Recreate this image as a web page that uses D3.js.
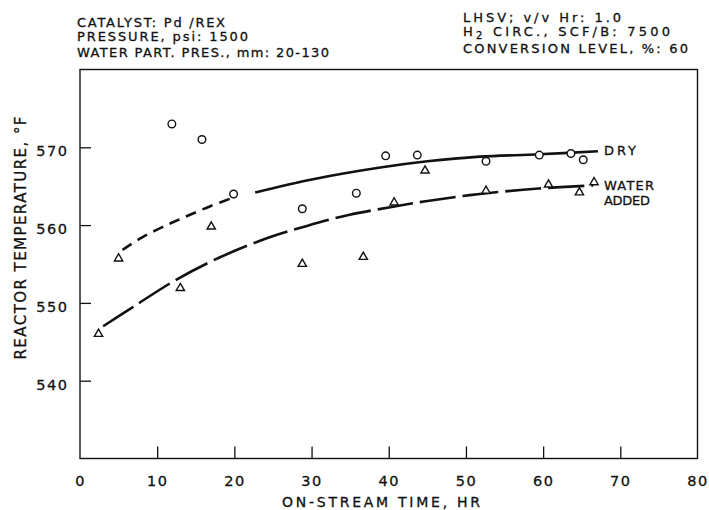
<!DOCTYPE html>
<html>
<head>
<meta charset="utf-8">
<script src="https://cdn.jsdelivr.net/npm/d3@7"></script>
<style>
  body { margin: 0; background: #fff; }
  text { font-family: "DejaVu Sans", sans-serif; fill: #111; stroke: #111; stroke-width: 0.3px; }
</style>
</head>
<body>
<div id="container"></div>
<script>
/* DATA */
// measured points, dry run (circles)
const dryTime = [11.9, 15.8, 19.9, 28.8, 35.8, 39.6, 43.7, 52.6, 59.5, 63.6, 65.2];
const dryTemp = [573.0, 571.0, 564.0, 562.1, 564.1, 568.9, 569.0, 568.2, 569.0, 569.2, 568.4];
// measured points, water added (triangles)
const waterTime = [2.4, 5.0, 13.0, 17.0, 28.8, 36.7, 40.7, 44.7, 52.6, 60.7, 64.7, 66.6];
const waterTemp = [546.0, 555.7, 551.9, 559.8, 555.0, 555.9, 562.9, 567.0, 564.4, 565.2, 564.2, 565.5];
// hand-drawn trend curves
const dryFitDashTime = [5.5, 8.0, 10.8, 13.5, 16.8, 20.3];
const dryFitDashTemp = [556.8, 558.4, 559.8, 561.0, 562.4, 563.7];
const dryFitSolidTime = [22.7, 30.2, 38.9, 45.0, 51.8, 59.5, 67.1];
const dryFitSolidTemp = [564.2, 565.9, 567.4, 568.2, 568.8, 569.1, 569.5];
const waterFitTime = [3.0, 6.9, 12.5, 18.0, 24.2, 29.4, 34.8, 40.2, 45.0, 51.8, 59.4, 66.5];
const waterFitTemp = [547.0, 549.5, 553.0, 555.8, 558.3, 559.9, 561.3, 562.3, 563.1, 564.0, 564.7, 565.1];
// axes
const xTicks = [0, 10, 20, 30, 40, 50, 60, 70, 80];
const yTicks = [540, 550, 560, 570];
const headerLeft = ["CATALYST: Pd /REX", "PRESSURE, psi: 1500", "WATER PART. PRES., mm: 20-130"];
const headerRight = ["LHSV; v/v Hr: 1.0", "H|2| CIRC., SCF/B: 7500", "CONVERSION LEVEL, %: 60"];

/* CONSTANTS */
const width = 709, height = 510;
const margin = { top: 69.5, bottom: 51.5, left: 80, right: 11.5 };

const zip = (a, b) => a.map((v, i) => [v, b[i]]);

/* SCALES */
const xScale = d3.scaleLinear().domain([0, 80]).range([margin.left, width - margin.right]);
const yScale = d3.scaleLinear().domain([530, 580]).range([height - margin.bottom, margin.top]);

const svg = d3.select("#container").append("svg")
  .attr("width", width).attr("height", height);

// frame
svg.append("rect")
  .attr("x", xScale(0)).attr("y", yScale(580))
  .attr("width", xScale(80) - xScale(0)).attr("height", yScale(530) - yScale(580))
  .attr("fill", "none").attr("stroke", "#111").attr("stroke-width", 1.4);

// axes
const xAxis = d3.axisBottom(xScale).tickValues(xTicks).tickSize(-12).tickPadding(17);
const gx = svg.append("g").attr("transform", `translate(0, ${yScale(530)})`).call(xAxis);
const yAxis = d3.axisLeft(yScale).tickValues(yTicks).tickSize(-11).tickPadding(11.5);
const gy = svg.append("g").attr("transform", `translate(${xScale(0)}, 0)`).call(yAxis);

[gx, gy].forEach(g => {
  g.select(".domain").remove();
  g.selectAll(".tick line").attr("stroke", "#111").attr("stroke-width", 1.3);
  g.selectAll(".tick text")
    .style("font-family", "DejaVu Sans").style("font-size", "14.5px")
    .style("letter-spacing", "1.5px").attr("fill", "#111");
});
gx.selectAll(".tick line").filter(d => d === 0 || d === 80).remove();
gy.selectAll(".tick text").attr("dy", "0.58em");

// axis titles
svg.append("text")
  .attr("x", 381).attr("y", 506.5).attr("text-anchor", "middle")
  .attr("textLength", 198).attr("lengthAdjust", "spacing")
  .style("font-size", "14px").text("ON-STREAM TIME, HR");

svg.append("text")
  .attr("transform", "translate(26, 238) rotate(-90)").attr("text-anchor", "middle")
  .attr("textLength", 243).attr("lengthAdjust", "spacing")
  .style("font-size", "15px").text("REACTOR TEMPERATURE, °F");

// header notes
const leftY = [26.5, 40.5, 56.5], leftW = [148, 171, 252];
headerLeft.forEach((t, i) => {
  svg.append("text").attr("x", 77).attr("y", leftY[i])
    .attr("textLength", leftW[i]).attr("lengthAdjust", "spacing")
    .style("font-size", "13px").text(t);
});
const rightY = [22, 36, 52.5], rightW = [158, 207, 225];
headerRight.forEach((t, i) => {
  const txt = svg.append("text").attr("x", 463).attr("y", rightY[i])
    .attr("textLength", rightW[i]).attr("lengthAdjust", "spacing")
    .style("font-size", "13px");
  const parts = t.split("|");
  if (parts.length === 3) {
    txt.append("tspan").text(parts[0]);
    txt.append("tspan").attr("dy", 3).style("font-size", "10px").text(parts[1]);
    txt.append("tspan").attr("dy", -3).text(parts[2]);
  } else {
    txt.text(t);
  }
});

// trend curves
const line = d3.line()
  .x(d => xScale(d[0])).y(d => yScale(d[1]))
  .curve(d3.curveCatmullRom.alpha(0.5));

svg.append("path").datum(zip(dryFitDashTime, dryFitDashTemp))
  .attr("d", line).attr("fill", "none").attr("stroke", "#111")
  .attr("stroke-width", 2.6).attr("stroke-dasharray", "11,7");
svg.append("path").datum(zip(dryFitSolidTime, dryFitSolidTemp))
  .attr("d", line).attr("fill", "none").attr("stroke", "#111")
  .attr("stroke-width", 2.6);
svg.append("path").datum(zip(waterFitTime, waterFitTemp))
  .attr("d", line).attr("fill", "none").attr("stroke", "#111")
  .attr("stroke-width", 2.6).attr("stroke-dasharray", "36,7");

// markers
svg.selectAll("circle.dry")
  .data(zip(dryTime, dryTemp))
  .join("circle")
  .attr("class", "dry")
  .attr("cx", d => xScale(d[0])).attr("cy", d => yScale(d[1]))
  .attr("r", 3.8).attr("fill", "#fff").attr("stroke", "#111").attr("stroke-width", 1.4);

const tri = d3.symbol().type(d3.symbolTriangle).size(30);
svg.selectAll("path.water")
  .data(zip(waterTime, waterTemp))
  .join("path")
  .attr("class", "water")
  .attr("d", tri)
  .attr("transform", d => `translate(${xScale(d[0])}, ${yScale(d[1])})`)
  .attr("fill", "#fff").attr("stroke", "#111").attr("stroke-width", 1.4);

// series labels
svg.append("text").attr("x", 604).attr("y", 155).attr("textLength", 32)
  .attr("lengthAdjust", "spacing").style("font-size", "13px").text("DRY");
svg.append("text").attr("x", 604).attr("y", 190).attr("textLength", 50)
  .attr("lengthAdjust", "spacing").style("font-size", "13px").text("WATER");
svg.append("text").attr("x", 604).attr("y", 205).attr("textLength", 46)
  .attr("lengthAdjust", "spacing").style("font-size", "13px").text("ADDED");
</script>
</body>
</html>
